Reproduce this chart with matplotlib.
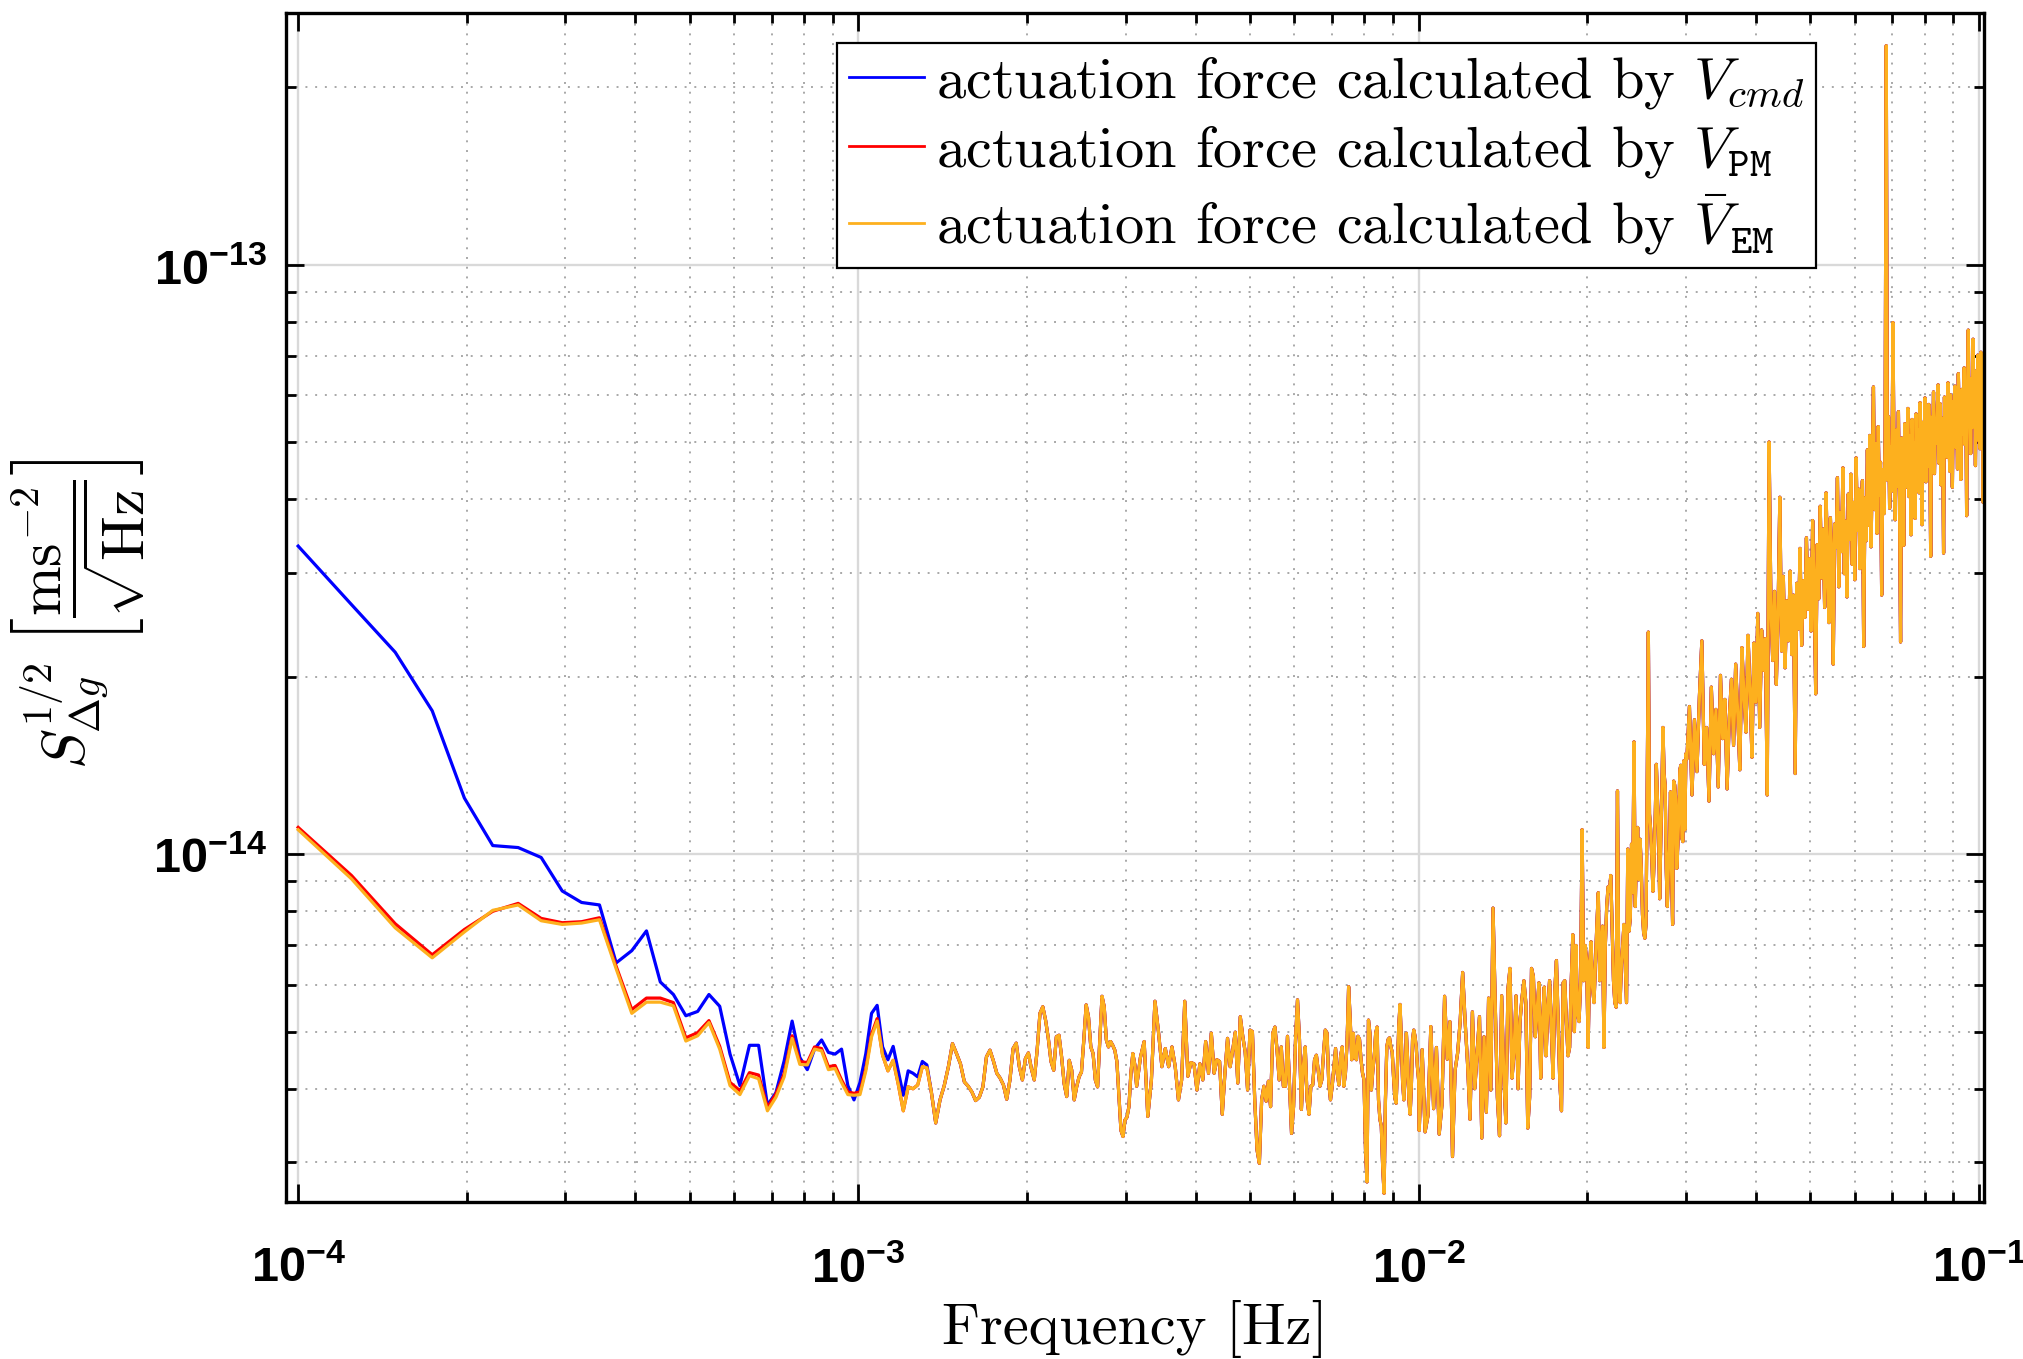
import numpy as np
import matplotlib
matplotlib.use("Agg")
import matplotlib.pyplot as plt
from matplotlib.lines import Line2D
from matplotlib.ticker import FixedLocator, LogLocator, NullFormatter, FuncFormatter

# spectral bins: f_k = F0 + k * DF  (Hz)
F0 = 1e-4
DF = 2.45e-5

BINS_LOW = (0, 124, 1)
BINS_MID = (124, 405, 2)
BINS_HIGH = (405, 1221, 5)
BINS_TOP = (1225, 4164, 13)

# amplitude spectral density, units of 1e-15 m s^-2 / sqrt(Hz)
em_low = [
    11.0, 9.08, 7.50, 6.67, 7.38, 8.03, 8.20, 7.71, 7.60, 7.64,
    7.74, 6.39, 5.37, 5.61, 5.61, 5.53, 4.82, 4.92, 5.18, 4.67,
    4.05, 3.91, 4.21, 4.16, 3.67, 3.87, 4.19, 4.87, 4.40, 4.39,
    4.67, 4.64, 4.31, 4.33, 4.10, 3.91, 3.90, 3.91, 4.29, 4.90,
    5.21, 4.56, 4.29, 4.47, 4.07, 3.67, 4.03, 4.00, 4.06, 4.36,
    4.34, 3.95, 3.50, 3.83, 4.05, 4.36, 4.77, 4.59, 4.41, 4.11,
    4.04, 3.95, 3.82, 3.87, 4.03, 4.53, 4.65, 4.46, 4.25, 4.17,
    4.06, 3.84, 4.14, 4.68, 4.78, 4.36, 4.14, 4.50, 4.60, 4.33,
    4.14, 4.65, 5.37, 5.51, 5.23, 4.87, 4.45, 4.30, 4.90, 4.93,
    4.53, 4.08, 3.88, 4.47, 4.30, 3.83, 4.03, 4.19, 4.27, 4.84,
    5.55, 5.29, 4.71, 4.59, 4.14, 4.03, 4.84, 5.74, 5.51, 4.84,
    4.71, 4.81, 4.74, 4.65, 4.45, 3.88, 3.40, 3.32, 3.54, 3.58,
    3.73, 4.25, 4.59, 4.40,
]
em_mid = [
    4.04, 4.52, 4.81, 3.59, 4.14, 5.63, 5.00, 4.36, 4.68, 4.36,
    4.71, 4.36, 3.83, 4.14, 5.63, 4.20, 4.43, 4.41, 3.98, 4.41,
    4.14, 4.81, 4.25, 4.97, 4.25, 4.48, 4.45, 3.62, 4.25, 4.87,
    4.36, 4.65, 4.99, 4.09, 5.30, 4.91, 4.62, 3.98, 5.03, 5.00,
    3.83, 3.15, 2.99, 3.83, 4.04, 3.81, 4.12, 3.73, 4.97, 5.09,
    4.65, 4.14, 4.71, 4.04, 4.04, 4.91, 4.04, 3.36, 3.73, 4.85,
    5.66, 4.85, 3.69, 4.36, 4.71, 3.83, 3.62, 4.04, 4.06, 4.48,
    4.56, 4.30, 4.04, 4.14, 4.59, 5.03, 4.97, 4.09, 3.83, 4.04,
    4.36, 4.68, 4.25, 4.06, 4.53, 4.71, 4.04, 4.25, 4.77, 5.96,
    5.23, 4.48, 4.97, 4.53, 4.48, 4.91, 4.85, 4.48, 4.25, 4.14,
    3.15, 2.78, 5.23, 4.97, 3.98, 4.30, 4.53, 4.97, 5.09, 3.83,
    3.55, 3.46, 2.95, 2.66, 3.83, 4.71, 4.85, 4.88, 4.71, 4.62,
    4.20, 3.86, 3.78, 4.36, 5.09, 5.56, 4.85, 4.12, 3.83, 4.25,
    4.97, 4.48, 3.83, 3.62, 4.04, 4.85, 5.03, 4.91, 4.71, 4.36,
    4.14,
]
em_high = [
    3.4, 4.66, 3.38, 3.6, 5.1, 3.7, 4.7, 3.35, 3.75, 5.74,
    4.49, 5.2, 3.07, 4.3, 4.6, 5.2, 6.3, 5.2, 4.4, 3.55,
    5.4, 4.0, 4.6, 5.3, 3.3, 4.9, 3.65, 5.7, 3.98, 8.1,
    5.6, 3.87, 3.33, 5.75, 4.23, 3.5, 5.9, 6.4, 4.17, 4.6,
    5.75, 4.0, 5.2, 5.7, 6.1, 5.6, 3.43, 3.87, 6.4, 6.2,
    4.9, 5.4, 6.05, 4.17, 5.2, 5.95, 4.55, 5.5, 6.1, 5.1,
    4.17, 5.85, 6.6, 5.2, 4.1, 3.67, 6.05, 6.1, 5.2, 4.55,
    4.7, 6.05, 7.3, 5.0, 7.0, 5.35, 5.2, 6.05, 11.0, 6.1,
    7.0, 6.6, 4.7, 6.5, 7.1, 5.95, 5.6, 6.5, 7.6, 8.6,
    6.1, 7.0, 7.55, 4.7, 7.0, 8.15, 8.8, 8.65, 9.2, 7.45,
    6.1, 5.6, 5.5, 12.8, 6.05, 5.6, 6.5, 7.0, 7.6, 6.5,
    5.6, 10.2, 7.4, 7.8, 10.4, 8.6, 15.5, 8.15, 10.2, 11.1,
    9.05, 10.6, 9.46, 7.9, 7.35, 7.2, 7.6, 12.8, 23.8, 11.7,
    11.0, 9.9, 8.65, 9.75, 11.5, 14.2, 12.4, 11.0, 8.4, 10.6,
    12.75, 16.4, 13.7, 13.1, 9.46, 8.15, 9.46, 10.2, 12.75, 9.46,
    7.6, 13.3, 13.1, 12.4, 9.46, 10.35, 11.7, 13.9, 14.15, 10.65,
    10.5, 14.4, 11.0, 14.8,
]
em_top = [
    14.5, 17.8, 12.6, 16.9, 13.8, 18.5, 23.0, 14.2, 16.4, 12.3,
    19.2, 14.8, 17.6, 13.0, 20.1, 15.7, 18.3, 12.9, 17.0, 19.8,
    15.3, 21.0, 17.2, 13.9, 22.4, 18.6, 16.1, 23.5, 19.0, 14.6,
    22.8, 18.1, 25.6, 16.4, 24.0, 20.5, 23.2, 12.6, 50.0, 26.5,
    21.3, 27.9, 19.4, 25.8, 40.3, 22.1, 29.6, 20.7, 26.9, 23.0,
    30.2, 21.8, 27.5, 13.7, 28.8, 24.1, 33.0, 22.6, 29.1, 25.2,
    34.4, 26.0, 31.7, 23.9, 36.8, 28.3, 18.7, 33.5, 27.1, 38.9,
    29.4, 35.6, 26.2, 41.0, 30.8, 24.7, 37.2, 31.5, 21.0, 36.3,
    33.1, 43.5, 28.4, 38.0, 32.6, 45.2, 29.9, 36.7, 27.3, 40.8,
    34.2, 44.1, 31.0, 39.5, 29.2, 47.0, 35.4, 41.6, 30.5, 38.8,
    43.0, 22.5, 40.2, 34.0, 48.5, 36.1, 51.3, 33.2, 45.7, 62.0,
    38.4, 49.6, 35.0, 53.1, 40.7, 46.2, 27.5, 44.9, 37.8, 51.0,
    235.0, 43.1, 55.2, 38.6, 49.0, 41.3, 79.7, 45.8, 36.9, 52.4,
    42.0, 56.3, 39.5, 22.9, 50.8, 44.0, 33.4, 53.7, 41.9, 48.2,
    57.0, 40.4, 51.2, 34.8, 54.6, 45.3, 49.9, 37.1, 55.8, 43.7,
    52.5, 41.0, 58.3, 46.6, 36.2, 54.0, 48.1, 59.4, 42.8, 51.7,
    45.5, 57.9, 49.3, 32.0, 55.1, 47.4, 60.8, 44.2, 53.6, 49.8,
    56.7, 62.5, 46.0, 58.1, 42.3, 54.9, 50.2, 32.4, 59.6, 48.5,
    57.3, 47.1, 63.0, 52.4, 44.6, 60.1, 54.8, 41.9, 58.5, 50.7,
    62.2, 48.9, 57.6, 45.0, 65.3, 53.1, 59.8, 43.2, 61.4, 51.6,
    56.0, 66.8, 49.5, 62.7, 37.5, 60.9, 77.4, 55.2, 64.1, 47.8,
    61.5, 52.9, 74.7, 57.4, 66.0, 45.6, 63.3, 54.1, 70.2, 50.3,
    65.8, 48.7, 71.0, 56.5, 62.9, 39.5, 58.0,
]
# where V_cmd and V_PM differ visibly from the EM curve (first bins only)
cmd_low = [
    33.3, 26.5, 22.0, 17.5, 12.45, 10.34, 10.26, 9.87, 8.66, 8.28,
    8.20, 6.54, 6.86, 7.41, 6.07, 5.78, 5.32, 5.41, 5.78, 5.52,
    4.58, 4.05, 4.74, 4.74, 3.75, 3.94, 4.46, 5.21, 4.52, 4.31,
    4.67, 4.84, 4.61, 4.58, 4.67, 4.05, 3.83, 4.10, 4.59, 5.37,
    5.54, 4.71, 4.48, 4.72, 4.29, 3.90, 4.29, 4.25, 4.19, 4.45,
    4.39, 3.95,
]
pm_low = [
    11.1, 9.20, 7.62, 6.75, 7.45, 8.00, 8.25, 7.78, 7.65, 7.68,
    7.80, 6.45, 5.45, 5.70, 5.70, 5.60, 4.88, 4.98, 5.22, 4.72,
    4.10, 3.97, 4.26, 4.22, 3.72, 3.92, 4.24, 4.92, 4.45, 4.43,
    4.71, 4.68, 4.36, 4.38, 4.14, 3.95, 3.93, 3.95, 4.33, 4.95,
    5.26,
]

labels = [
    r"actuation force calculated by $V_{cmd}$",
    r"actuation force calculated by $V_{\mathtt{PM}}$",
    r"actuation force calculated by $\bar{V}_{\mathtt{EM}}$",
]
colors = ["#0000ff", "#ff0000", "#fdb01e"]
x_decades = [1e-4, 1e-3, 1e-2, 1e-1]
y_decades = [1e-14, 1e-13]

# ---- assemble series
k = np.concatenate([np.arange(*BINS_LOW), np.arange(*BINS_MID),
                    np.arange(*BINS_HIGH), np.arange(*BINS_TOP)])
freq = F0 + k * DF
em = np.array(em_low + em_mid + em_high + em_top) * 1e-15
cmd = np.concatenate([np.array(cmd_low) * 1e-15, em[len(cmd_low):]])
pm = np.concatenate([np.array(pm_low) * 1e-15, em[len(pm_low):]])

# ---- fonts: bold sans tick labels, computer modern for the rest
plt.rcParams["mathtext.fontset"] = "custom"
plt.rcParams["mathtext.rm"] = "Liberation Sans"
plt.rcParams["mathtext.bf"] = "Liberation Sans:bold"
plt.rcParams["mathtext.it"] = "Liberation Sans:italic"

fig = plt.figure(figsize=(20.23, 13.59), dpi=100)
ax = fig.add_axes([0.1416, 0.1152, 0.8391, 0.8752])

for y, c in zip([cmd, pm, em], colors):
    ax.plot(freq, y, color=c, lw=2.3)

ax.set_xscale("log")
ax.set_yscale("log")
ax.set_xlim(9.53e-5, 0.1021)
ax.set_ylim(2.566e-15, 2.67e-13)

decade_fmt = FuncFormatter(lambda v, p: r"$\mathbf{10^{%d}}$" % int(round(np.log10(v))))
for axis, majors in ((ax.xaxis, x_decades), (ax.yaxis, y_decades)):
    axis.set_major_locator(FixedLocator(majors))
    axis.set_major_formatter(decade_fmt)
    axis.set_minor_locator(LogLocator(base=10, subs=np.arange(2, 10), numticks=50))
    axis.set_minor_formatter(NullFormatter())

ax.tick_params(which="both", direction="in", top=True, right=True,
               labelsize=35, width=2.0)
ax.tick_params(which="major", length=13)
ax.tick_params(which="minor", length=7)
ax.tick_params(axis="x", pad=30)
ax.tick_params(axis="y", pad=14)

for s in ax.spines.values():
    s.set_linewidth(2.4)

ax.set_axisbelow(True)
ax.grid(which="major", color="#d9d9d9", lw=1.7, ls="-")
ax.grid(which="minor", color="#a8a8a8", lw=1.4, ls=(0, (1, 4)))

ax.set_xlabel("Frequency [Hz]", fontsize=42, fontfamily="cmr10", labelpad=6)
ax.set_ylabel(r"$S_{\Delta g}^{1/2}\;\left[\dfrac{\mathrm{ms}^{-2}}{\sqrt{\mathrm{Hz}}}\right]$",
              fontsize=43, math_fontfamily="cm")
ax.yaxis.set_label_coords(-0.0822, 0.4947)

handles = [Line2D([], [], color=c, lw=2.0) for c in colors]
leg = ax.legend(handles, labels, loc="upper left", bbox_to_anchor=(0.3243, 0.9748),
                bbox_transform=ax.transAxes, borderaxespad=0,
                prop={"family": "cmr10", "size": 42},
                handlelength=1.3, handletextpad=0.2, labelspacing=0.22,
                borderpad=0.2, fancybox=False, framealpha=1, edgecolor="black")
leg.get_frame().set_linewidth(1.6)
for t in leg.get_texts():
    t.set_math_fontfamily("cm")

fig.savefig("out.png", dpi=100)
